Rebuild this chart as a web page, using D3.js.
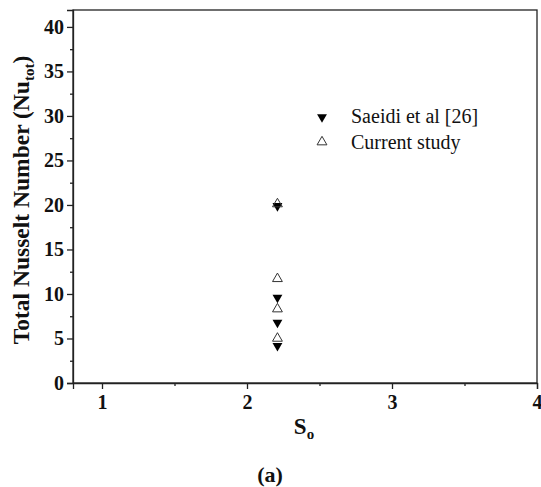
<!DOCTYPE html>
<html><head><meta charset="utf-8">
<script src="https://cdn.jsdelivr.net/npm/d3@7"></script>
<style>body{margin:0;background:#fff}svg{display:block}</style>
</head><body>
<script>
const xTicks = [1, 2, 3, 4];
const yTicks = [0, 5, 10, 15, 20, 25, 30, 35, 40];
const saeidiX = [2.21, 2.21, 2.21, 2.21];
const saeidiY = [20.0, 9.7, 6.9, 4.3];
const currentX = [2.21, 2.21, 2.21, 2.21];
const currentY = [20.0, 11.6, 8.2, 4.9];
const seriesNames = ["Saeidi et al [26]", "Current study"];

const W = 541, H = 487;
const m = {l: 73, r: 537, t: 10, b: 383};
const svg = d3.select("body").append("svg").attr("width", W).attr("height", H);
const x = d3.scaleLinear().domain([0.8, 4]).range([m.l, m.r]);
const y = d3.scaleLinear().domain([0, 41.9]).range([m.b, m.t]);
const font = "'Liberation Serif','Times New Roman',serif";

// frame
svg.append("rect").attr("x", m.l).attr("y", m.t).attr("width", m.r - m.l).attr("height", m.b - m.t)
  .attr("fill", "none").attr("stroke", "#222").attr("stroke-width", 1.3);

// y axis
const yAx = svg.append("g").attr("transform", `translate(${m.l},0)`)
  .call(d3.axisLeft(y).tickValues(yTicks).tickFormat(d3.format("d")).tickSize(6).tickPadding(3));
yAx.attr("font-family", font);
yAx.select(".domain").attr("stroke", "#222").attr("stroke-width", 1.3);
yAx.selectAll(".tick line").attr("stroke", "#222").attr("stroke-width", 1.3);
yAx.selectAll("text").style("font-family", font).style("font-weight", "bold").style("font-size", "20px").attr("fill", "#111");
const yMinor = svg.append("g").attr("transform", `translate(${m.l},0)`)
  .call(d3.axisLeft(y).tickValues(yTicks.slice(0, -1).map(v => v + 2.5)).tickSize(3).tickFormat(""));
yMinor.select(".domain").remove();
yMinor.selectAll(".tick line").attr("stroke", "#222").attr("stroke-width", 1.3);

// x axis
const xAx = svg.append("g").attr("transform", `translate(0,${m.b})`)
  .call(d3.axisBottom(x).tickValues(xTicks).tickFormat(d3.format("d")).tickSize(6).tickPadding(6));
xAx.attr("font-family", font);
xAx.select(".domain").attr("stroke", "#222").attr("stroke-width", 1.3);
xAx.selectAll(".tick line").attr("stroke", "#222").attr("stroke-width", 1.3);
xAx.selectAll("text").style("font-family", font).style("font-weight", "bold").style("font-size", "20px").attr("fill", "#111");
const xMinor = svg.append("g").attr("transform", `translate(0,${m.b})`)
  .call(d3.axisBottom(x).tickValues(xTicks.slice(0, -1).map(v => v + 0.5)).tickSize(3).tickFormat(""));
xMinor.select(".domain").remove();
xMinor.selectAll(".tick line").attr("stroke", "#222").attr("stroke-width", 1.3);

// axis titles
const yt = svg.append("text").attr("transform", `translate(29,200) rotate(-90)`)
  .attr("text-anchor", "middle").style("font-family", font).style("font-weight", "bold")
  .style("font-size", "23.5px").attr("fill", "#111");
yt.append("tspan").text("Total Nusselt Number (Nu");
yt.append("tspan").style("font-size", "15px").attr("dy", 5).text("tot");
yt.append("tspan").attr("dy", -5).text(")");

const xt = svg.append("text").attr("x", 304).attr("y", 434).attr("text-anchor", "middle")
  .style("font-family", font).style("font-weight", "bold").style("font-size", "23px").attr("fill", "#111");
xt.append("tspan").text("S");
xt.append("tspan").style("font-size", "15px").attr("dy", 5).text("o");

svg.append("text").attr("x", 270).attr("y", 482).attr("text-anchor", "middle")
  .style("font-family", font).style("font-weight", "bold").style("font-size", "22px").attr("fill", "#111").text("(a)");

// markers
const triSym = d3.symbol().type(d3.symbolTriangle).size(42);
svg.append("g").selectAll("path").data(saeidiY).join("path")
  .attr("d", triSym).attr("transform", (d, i) => `translate(${x(saeidiX[i])},${y(d) + 1}) rotate(180)`)
  .attr("fill", "#000");
svg.append("g").selectAll("path").data(currentY).join("path")
  .attr("d", triSym).attr("transform", (d, i) => `translate(${x(currentX[i])},${y(d) - 1})`)
  .attr("fill", "none").attr("stroke", "#333").attr("stroke-width", 1);

// legend
const lg = svg.append("g");
lg.append("path").attr("d", triSym).attr("transform", "translate(322,117) rotate(180)").attr("fill", "#000");
lg.append("path").attr("d", triSym).attr("transform", "translate(322,142)").attr("fill", "none").attr("stroke", "#333");
lg.selectAll("text").data(seriesNames).join("text")
  .attr("x", 351).attr("y", (d, i) => 123 + i * 25.5)
  .style("font-family", font).style("font-size", "20px").attr("fill", "#111").text(d => d);
</script>
</body></html>
